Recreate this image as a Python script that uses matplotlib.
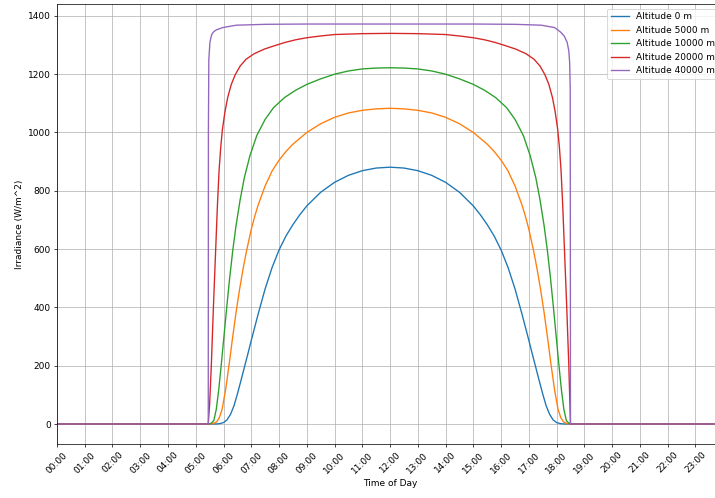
import matplotlib
matplotlib.use('Agg')
import matplotlib.pyplot as plt

# hours of day and irradiance (W/m^2), one pair per altitude
t_0 = [0, 5.45, 5.75, 5.875, 6.0, 6.125, 6.25, 6.375, 6.5, 6.625, 6.75, 6.875, 7.0, 7.25,
       7.5, 7.75, 8.0, 8.25, 8.5, 8.75, 9.0, 9.5, 10.0, 10.5, 11.0, 11.5, 12.0,
       12.5, 13.0, 13.5, 14.0, 14.5, 15.0, 15.25, 15.5, 15.75, 16.0, 16.25, 16.5, 16.75,
       17.0, 17.125, 17.25, 17.375, 17.5, 17.625, 17.75, 17.875, 18.0, 18.125, 18.25,
       18.5, 24]
irr_0 = [0, 0, 0.2, 1.5, 5, 14, 33, 62, 103, 148, 194, 240, 287, 378,
         464, 537, 597, 645, 684, 718, 748, 795, 829, 853, 869, 878, 881,
         878, 869, 853, 829, 795, 748, 718, 684, 645, 597, 537, 464, 378,
         287, 240, 194, 148, 103, 62, 33, 14, 5, 1.5, 0.2,
         0, 0]

t_5000 = [0, 5.45, 5.6, 5.75, 5.85, 5.95, 6.075, 6.2, 6.325, 6.45, 6.575, 6.7, 6.825, 7.0,
          7.125, 7.25, 7.5, 7.75, 8.0, 8.25, 8.5, 9.0, 9.5, 10.0, 10.5, 11.0, 11.5, 12.0,
          12.5, 13.0, 13.5, 14.0, 14.5, 15.0, 15.5, 15.75, 16.0, 16.25, 16.5, 16.75, 16.875,
          17.0, 17.175, 17.3, 17.425, 17.55, 17.675, 17.8, 17.925, 18.05, 18.15, 18.25, 18.4,
          18.5, 24]
irr_5000 = [0, 0, 1, 7, 22, 51, 118, 203, 295, 382, 460, 530, 592, 668,
            713, 752, 817, 868, 905, 935, 960, 1000, 1030, 1052, 1067, 1076, 1081, 1083,
            1081, 1076, 1067, 1052, 1030, 1000, 960, 935, 905, 868, 817, 752, 713,
            668, 592, 530, 460, 382, 295, 203, 118, 51, 22, 7, 1,
            0, 0]

t_10000 = [0, 5.45, 5.55, 5.65, 5.74, 5.83, 5.92, 6.02, 6.115, 6.22, 6.335, 6.45, 6.6, 6.75,
           6.95, 7.2, 7.5, 7.8, 8.2, 8.6, 9.0, 9.5, 10.0, 10.5, 11.0, 11.5, 12.0,
           12.5, 13.0, 13.5, 14.0, 14.5, 15.0, 15.4, 15.8, 16.2, 16.5, 16.8, 17.05, 17.25,
           17.4, 17.55, 17.665, 17.78, 17.885, 17.98, 18.08, 18.17, 18.26, 18.35, 18.45,
           18.5, 24]
irr_10000 = [0, 0, 2, 12, 51, 120, 205, 305, 400, 500, 597, 680, 770, 845,
             920, 990, 1045, 1085, 1120, 1145, 1165, 1184, 1200, 1211, 1218, 1221, 1222,
             1221, 1218, 1211, 1200, 1184, 1165, 1145, 1120, 1085, 1045, 990, 920, 845,
             770, 680, 597, 500, 400, 305, 205, 120, 51, 12, 2,
             0, 0]

t_20000 = [0, 5.45, 5.50, 5.56, 5.635, 5.72, 5.78, 5.84, 5.90, 5.96, 6.05, 6.15, 6.28, 6.42,
           6.6, 6.81, 7.1, 7.47, 7.85, 8.22, 8.6, 9.0, 9.5, 10.0, 11.0, 12.0,
           13.0, 14.0, 14.5, 15.0, 15.4, 15.78, 16.15, 16.53, 16.9, 17.19, 17.4, 17.58,
           17.72, 17.85, 17.95, 18.04, 18.10, 18.16, 18.22, 18.28, 18.365, 18.44, 18.5, 24]
irr_20000 = [0, 0, 70, 200, 400, 605, 750, 870, 950, 1010, 1070, 1120, 1165, 1198,
             1228, 1251, 1270, 1286, 1298, 1309, 1318, 1325, 1331, 1336, 1339, 1340,
             1339, 1336, 1331, 1325, 1318, 1309, 1298, 1286, 1270, 1251, 1228, 1198,
             1165, 1120, 1070, 1010, 950, 870, 750, 605, 400, 200, 0, 0]

t_40000 = [0, 5.45, 5.455, 5.47, 5.51, 5.545, 5.58, 5.65, 5.74, 5.98, 6.46, 7.5, 9.0,
           12.0, 15.0, 16.5, 17.45, 17.92, 18.04, 18.16, 18.28, 18.38, 18.44, 18.47,
           18.49, 18.5, 24]
irr_40000 = [0, 0, 1000, 1250, 1309, 1325, 1337, 1346, 1352, 1360, 1368, 1371, 1372,
             1372, 1372, 1371, 1368, 1360, 1352, 1343, 1330, 1309, 1280, 1240,
             1150, 0, 0]

labels = ['Altitude 0 m', 'Altitude 5000 m', 'Altitude 10000 m',
          'Altitude 20000 m', 'Altitude 40000 m']
series = [(t_0, irr_0), (t_5000, irr_5000), (t_10000, irr_10000),
          (t_20000, irr_20000), (t_40000, irr_40000)]

hours = list(range(24))
hour_labels = ['%02d:00' % h for h in hours]

fig = plt.figure(figsize=(11, 498 / 65), dpi=65)
ax = fig.add_axes([0.0797, 0.1084, 0.9317, 0.8835])

for (t, irr), lab in zip(series, labels):
    ax.plot(t, irr, label=lab)

ax.set_xlim(0, 24)
ax.set_xticks(hours)
ax.set_xticklabels(hour_labels, rotation=45)
ax.set_xlabel('Time of Day')
ax.set_ylabel('Irradiance (W/m^2)')
ax.grid(True)
ax.legend(loc='upper right')

fig.savefig('out.png', dpi=65)
